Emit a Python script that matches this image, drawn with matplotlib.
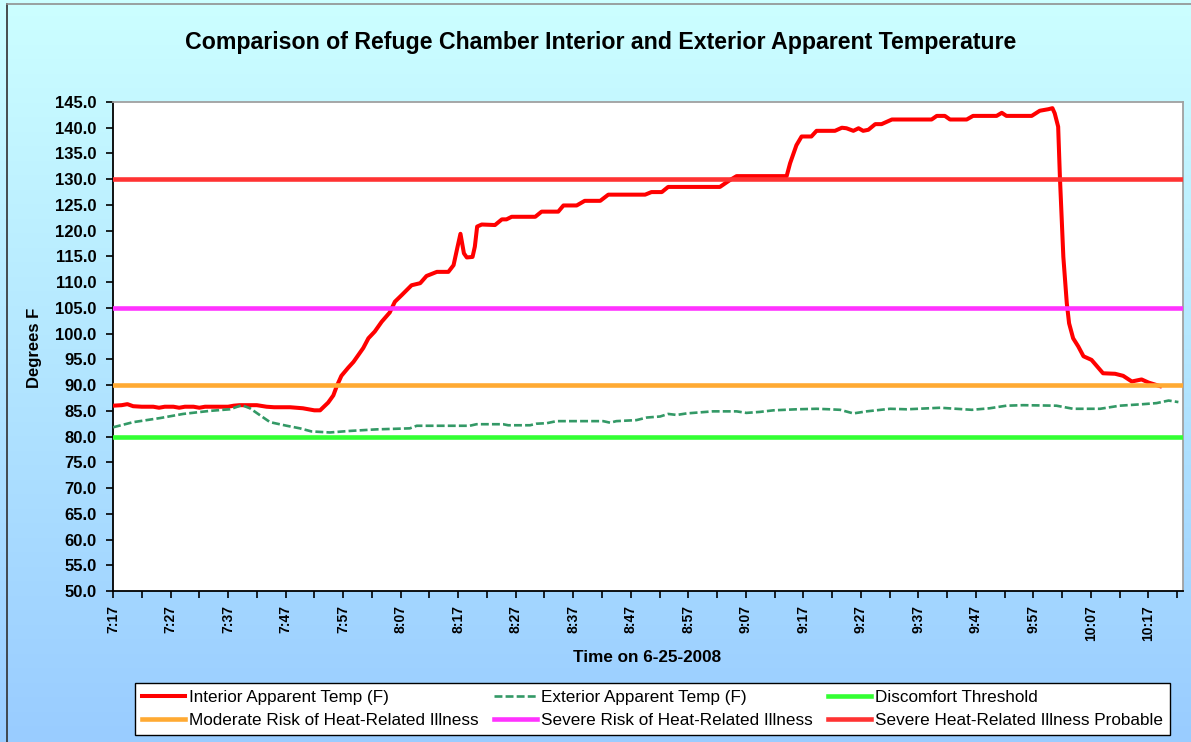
import matplotlib
matplotlib.use("Agg")
import matplotlib.pyplot as plt
import numpy as np
from matplotlib.colors import LinearSegmentedColormap

plt.rcParams["font.family"] = ["Liberation Sans", "DejaVu Sans"]

# minutes after 7:17 on 6-25-2008
interior_min = [0, 1.5, 2.5, 3.5, 5, 7, 8, 9, 10.5, 11.5, 12.5, 14, 15, 16, 20, 21, 22, 25,
                26.7, 28, 30.8, 33, 35, 36, 37.4, 38.3, 38.9, 39.7, 40.9, 41.8, 43.5, 44.4,
                45.5, 46.7, 48.1, 49, 50.2, 51.9, 53.4, 54.5, 56.3, 58.3, 59.2, 59.9, 60.4,
                61, 61.5, 62.5, 62.9, 63.3, 64.1, 66.4, 67.6, 68.4, 69.3, 73.4, 74.5, 77.4,
                78.3, 80.6, 82, 84.7, 86.1, 92.5, 93.6, 95.4, 96.5, 105.5, 107.2, 108.4,
                117.1, 117.7, 118.8, 119.7, 121.4, 122.3, 125.5, 126.7, 127.5, 128.7, 129.6,
                130.4, 131.3, 132.5, 133.6, 135.4, 142.3, 143.2, 144.6, 145.5, 148.4, 149.5,
                153.6, 154.5, 155.3, 159.7, 161.1, 162.6, 163.3, 163.7, 164.3, 164.6, 165.2,
                165.8, 166.2, 166.9, 167.8, 168.7, 170.1, 172.1, 174.2, 175.6, 177.1, 178.8,
                180, 182]
interior_temp = [86.0, 86.1, 86.3, 85.9, 85.8, 85.8, 85.6, 85.8, 85.8, 85.6, 85.8, 85.8, 85.6,
                 85.8, 85.8, 86.0, 86.1, 86.1, 85.8, 85.7, 85.7, 85.5, 85.1, 85.1, 86.6, 88.0,
                 89.8, 91.8, 93.4, 94.5, 97.2, 99.1, 100.4, 102.3, 104.1, 106.2, 107.5, 109.4,
                 109.8, 111.2, 112.0, 112.0, 113.3, 116.9, 119.4, 115.6, 114.8, 114.9, 116.9,
                 120.8, 121.2, 121.1, 122.2, 122.2, 122.7, 122.7, 123.7, 123.7, 124.9, 124.9,
                 125.8, 125.8, 127.0, 127.0, 127.5, 127.5, 128.5, 128.5, 129.8, 130.6, 130.6,
                 133.1, 136.6, 138.3, 138.3, 139.4, 139.4, 140.0, 139.9, 139.4, 139.9, 139.4,
                 139.6, 140.7, 140.7, 141.6, 141.6, 142.3, 142.3, 141.6, 141.6, 142.3, 142.3,
                 142.9, 142.3, 142.3, 143.3, 143.6, 143.8, 142.8, 140.2, 130.5, 114.9, 105.9,
                 102.0, 99.1, 97.5, 95.6, 94.9, 92.3, 92.2, 91.8, 90.7, 91.1, 90.5, 89.8]

exterior_min = [0, 3.5, 8.2, 12.2, 16.9, 20.3, 22.4, 23.8, 27.3, 30.2, 32.5, 34.5, 37.7, 41.2,
                45.8, 51.6, 52.8, 62, 63.2, 67.8, 68.7, 72.5, 73.6, 75.4, 77.1, 85.2, 86.4,
                87.5, 91, 92.8, 95.1, 96.5, 98, 99.7, 104.3, 108.4, 110.1, 112.5, 114.8, 118.8,
                122.3, 124.6, 126.4, 128.7, 131, 135.1, 138, 143.8, 149.3, 152.4, 155.3, 158.2,
                164, 166.9, 171.6, 175, 179.1, 181.4, 183.5, 185.2]
exterior_temp = [81.8, 82.8, 83.6, 84.4, 85.0, 85.3, 86.1, 85.5, 82.8, 82.1, 81.6, 81.0, 80.8,
                 81.1, 81.4, 81.6, 82.1, 82.1, 82.4, 82.4, 82.2, 82.2, 82.5, 82.6, 83.0, 83.0,
                 82.7, 83.0, 83.2, 83.7, 83.9, 84.4, 84.2, 84.5, 84.9, 84.9, 84.6, 84.8, 85.1,
                 85.3, 85.4, 85.3, 85.2, 84.5, 84.9, 85.4, 85.3, 85.6, 85.2, 85.5, 86.0, 86.1,
                 86.0, 85.4, 85.4, 86.0, 86.3, 86.5, 87.0, 86.7]

threshold_names = ["Discomfort Threshold", "Moderate Risk of Heat-Related Illness",
                   "Severe Risk of Heat-Related Illness", "Severe Heat-Related Illness Probable"]
threshold_values = [80, 90, 105, 130]
threshold_colors = ["#33FF33", "#FFAA33", "#FF33FF", "#FF3333"]

tick_minutes = list(range(0, 181, 10))
tick_labels = ["7:17", "7:27", "7:37", "7:47", "7:57", "8:07", "8:17", "8:27", "8:37", "8:47",
               "8:57", "9:07", "9:17", "9:27", "9:37", "9:47", "9:57", "10:07", "10:17"]

W, H = 1191, 742
fig = plt.figure(figsize=(W / 100, H / 100), dpi=100)

# chart-area gradient background
bg = fig.add_axes([0, 0, 1, 1], zorder=-10)
cmap = LinearSegmentedColormap.from_list("bgfill", ["#CCFFFF", "#99CCFF"])
bg.imshow(np.linspace(0, 1, 256).reshape(-1, 1), aspect="auto", cmap=cmap,
          extent=[0, 1, 0, 1], origin="upper")
bg.set_xlim(0, 1)
bg.set_ylim(0, 1)
bg.axis("off")
bg.plot([6.5 / W, 6.5 / W], [0, 1 - 4 / H], color="#303030", lw=1.2)
bg.plot([6.5 / W, 1], [1 - 4 / H, 1 - 4 / H], color="#909090", lw=1.2)

ax = fig.add_axes([113 / W, 1 - 591 / H, (1183 - 113) / W, (591 - 102) / H])
ax.set_facecolor("white")

h_int, = ax.plot(interior_min, interior_temp, color="#FF0000", lw=2.9, zorder=3,
                 solid_joinstyle="round", label="Interior Apparent Temp (F)")
h_ext, = ax.plot(exterior_min, exterior_temp, color="#339966", lw=1.9,
                 linestyle=(0, (3.0, 1.2)), zorder=4, label="Exterior Apparent Temp (F)")
h_thr = []
for name, val, col in zip(threshold_names, threshold_values, threshold_colors):
    h_thr.append(ax.axhline(val, color=col, lw=3.3, zorder=5, label=name))

ax.set_xlim(0, 186)
ax.set_ylim(50, 145)
ax.set_yticks(np.arange(50, 146, 5))
ax.set_yticklabels([f"{v:.1f}" for v in np.arange(50, 146, 5)], fontsize=12, fontweight="bold")
ax.set_xticks(tick_minutes)
ax.set_xticklabels(tick_labels, rotation=90, fontsize=10, fontweight="bold")
ax.set_xticks(np.arange(5, 186, 10), minor=True)
ax.tick_params(axis="both", which="both", length=5, width=1.2, color="black", direction="out")
ax.tick_params(axis="y", pad=7)
ax.tick_params(axis="x", pad=5)

for side in ["left", "bottom"]:
    ax.spines[side].set_color("black")
    ax.spines[side].set_linewidth(1.3)
for side in ["top", "right"]:
    ax.spines[side].set_color("#A0A0A0")
    ax.spines[side].set_linewidth(1.3)

fig.text(601 / W, 1 - 42 / H,
         "Comparison of Refuge Chamber Interior and Exterior Apparent Temperature",
         ha="center", va="center", fontsize=16.7, fontweight="bold")
fig.text(35 / W, 1 - 348 / H, "Degrees F", rotation=90, ha="center", va="center",
         fontsize=12, fontweight="bold")
fig.text(647 / W, 1 - 657 / H, "Time on 6-25-2008", ha="center", va="center",
         fontsize=12.3, fontweight="bold")

# Excel fills the legend row-wise; matplotlib fills column-wise
handles = [h_int, h_thr[1], h_ext, h_thr[2], h_thr[0], h_thr[3]]
leg = fig.legend(handles, [h.get_label() for h in handles], loc="upper left",
                 bbox_to_anchor=(135 / W, 1 - 683 / H), ncol=3, fontsize=12.3,
                 handlelength=2.5, handletextpad=0.25, columnspacing=0.9,
                 labelspacing=0.5, borderpad=0.4, borderaxespad=0, fancybox=False,
                 framealpha=1, edgecolor="black", facecolor="white")
leg.get_frame().set_linewidth(1.0)

fig.savefig("out.png", dpi=100)
